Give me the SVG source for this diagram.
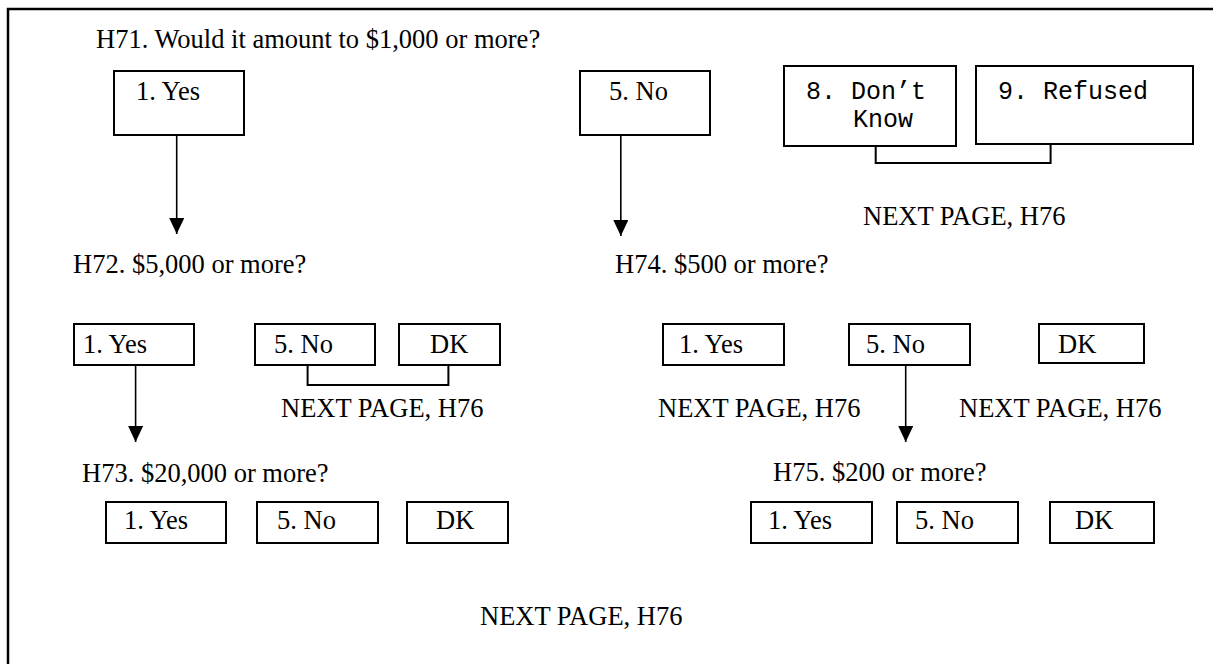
<svg xmlns="http://www.w3.org/2000/svg" width="1213" height="664" viewBox="0 0 1213 664">
<style>
.t{font-family:"Liberation Serif","Times New Roman",serif;font-size:26.5px;fill:#000}
.m{font-family:"Liberation Mono","Courier New",monospace;font-size:25px;fill:#000}
.b{fill:#fff;stroke:#000;stroke-width:2}
.c{fill:none;stroke:#000;stroke-width:1.6}
.k{fill:none;stroke:#000;stroke-width:2}
</style>
<defs>
<marker id="ah" markerUnits="userSpaceOnUse" markerWidth="16" markerHeight="16" refX="16" refY="7.5" orient="auto">
<path d="M0,0 L16,7.5 L0,15 z" fill="#000"/>
</marker>
</defs>
<rect x="0" y="0" width="1213" height="664" fill="#fff"/>
<rect x="8" y="9" width="1260" height="700" fill="none" stroke="#000" stroke-width="2.5"/>

<g id="q-h71"><text class="t" x="96" y="48">H71. Would it amount to $1,000 or more?</text></g>
<g id="h71-yes"><rect class="b" x="114" y="71" width="130" height="64"/><text class="t" x="136" y="100">1. Yes</text></g>
<g id="h71-no"><rect class="b" x="580" y="71" width="130" height="64"/><text class="t" x="609" y="100">5. No</text></g>
<g id="h71-dk"><rect class="b" x="784" y="66" width="172" height="80"/><text class="m" x="806" y="98.5">8. Don’t</text><text class="m" x="853" y="127">Know</text></g>
<g id="h71-ref"><rect class="b" x="976" y="66" width="217" height="78"/><text class="m" x="998" y="98.5">9. Refused</text></g>
<g id="np1"><text class="t" x="863" y="225">NEXT PAGE, H76</text></g>

<g id="q-h72"><text class="t" x="73" y="273">H72. $5,000 or more?</text></g>
<g id="h72-yes"><rect class="b" x="74" y="324" width="120" height="41"/><text class="t" x="83" y="353">1. Yes</text></g>
<g id="h72-no"><rect class="b" x="255" y="324" width="120" height="41"/><text class="t" x="274" y="353">5. No</text></g>
<g id="h72-dk"><rect class="b" x="399" y="324" width="101" height="41"/><text class="t" x="430" y="353">DK</text></g>
<g id="np2"><text class="t" x="281" y="417">NEXT PAGE, H76</text></g>

<g id="q-h73"><text class="t" x="82" y="482">H73. $20,000 or more?</text></g>
<g id="h73-yes"><rect class="b" x="106" y="502" width="120" height="41"/><text class="t" x="124" y="529">1. Yes</text></g>
<g id="h73-no"><rect class="b" x="257" y="502" width="121" height="41"/><text class="t" x="277" y="529">5. No</text></g>
<g id="h73-dk"><rect class="b" x="407" y="502" width="101" height="41"/><text class="t" x="436" y="529">DK</text></g>

<g id="q-h74"><text class="t" x="615" y="273">H74. $500 or more?</text></g>
<g id="h74-yes"><rect class="b" x="663" y="324" width="121" height="41"/><text class="t" x="679" y="353">1. Yes</text></g>
<g id="h74-no"><rect class="b" x="849" y="324" width="121" height="41"/><text class="t" x="866" y="353">5. No</text></g>
<g id="h74-dk"><rect class="b" x="1039" y="324" width="105" height="39"/><text class="t" x="1058" y="353">DK</text></g>
<g id="np3"><text class="t" x="658" y="417">NEXT PAGE, H76</text></g>
<g id="np4"><text class="t" x="959" y="417">NEXT PAGE, H76</text></g>

<g id="q-h75"><text class="t" x="773" y="481">H75. $200 or more?</text></g>
<g id="h75-yes"><rect class="b" x="751" y="502" width="121" height="41"/><text class="t" x="768" y="529">1. Yes</text></g>
<g id="h75-no"><rect class="b" x="897" y="502" width="121" height="41"/><text class="t" x="915" y="529">5. No</text></g>
<g id="h75-dk"><rect class="b" x="1050" y="502" width="104" height="41"/><text class="t" x="1075" y="529">DK</text></g>

<g id="np5"><text class="t" x="480" y="625">NEXT PAGE, H76</text></g>

<g id="connectors">
<line class="c" x1="176.7" y1="135" x2="176.7" y2="234" marker-end="url(#ah)"/>
<line class="c" x1="620.8" y1="135" x2="620.8" y2="236" marker-end="url(#ah)"/>
<line class="c" x1="135.6" y1="365" x2="135.6" y2="442" marker-end="url(#ah)"/>
<line class="c" x1="905.7" y1="365" x2="905.7" y2="442" marker-end="url(#ah)"/>
<polyline class="k" points="875.7,146 875.7,163 1050.6,163 1050.6,144"/>
<polyline class="k" points="307.6,365 307.6,385 448.4,385 448.4,365"/>
</g>
</svg>
